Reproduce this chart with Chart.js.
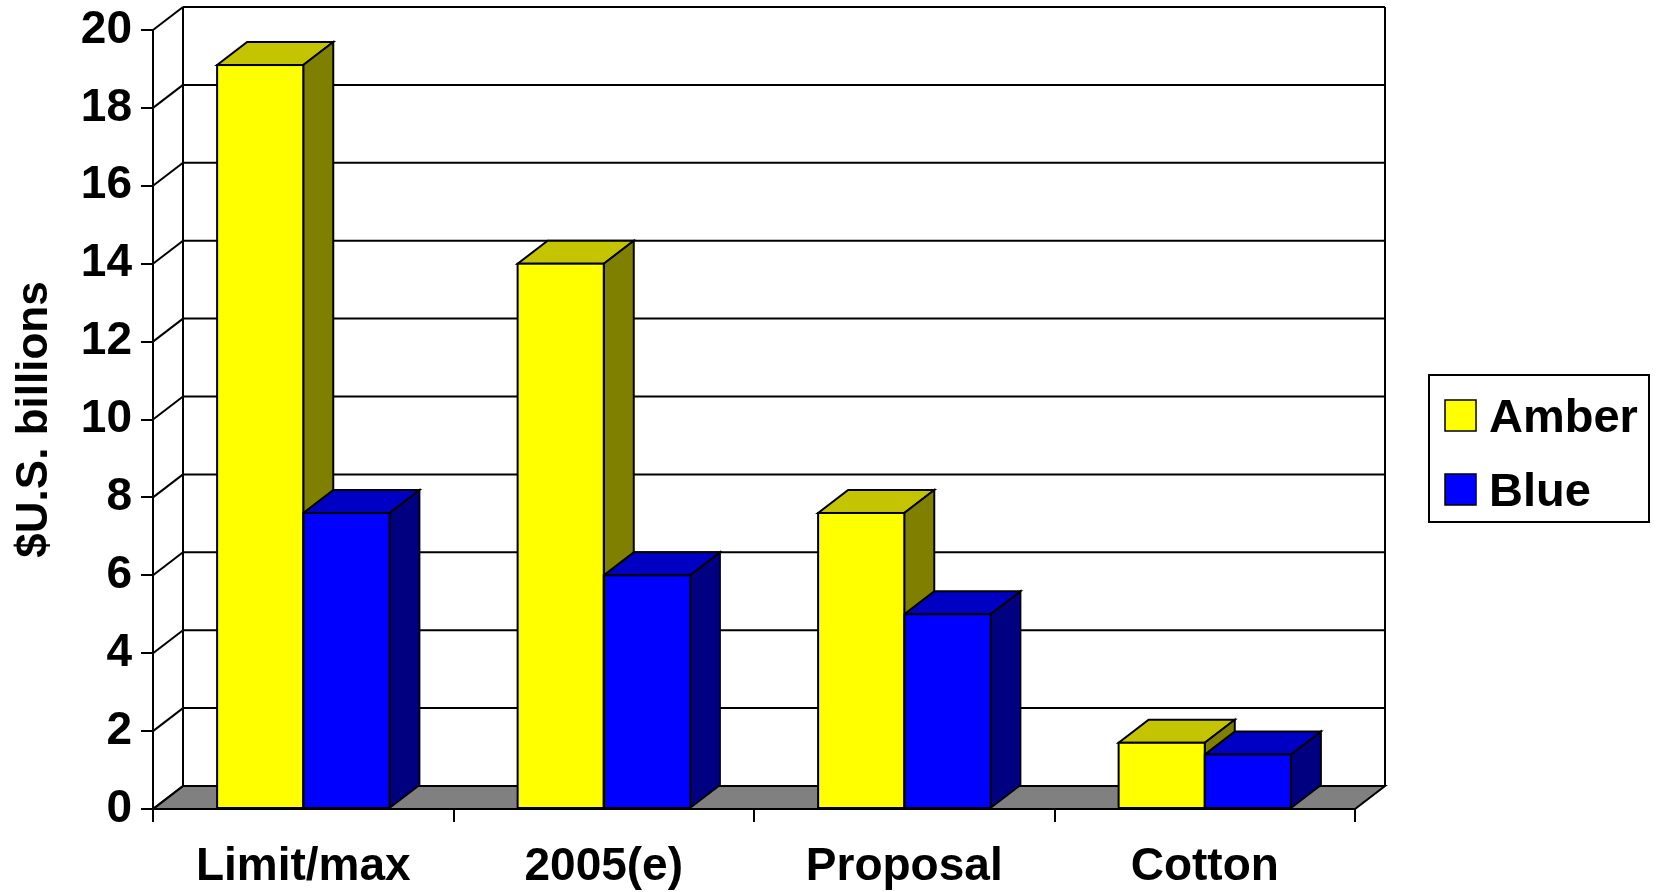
<!DOCTYPE html>
<html>
<head>
<meta charset="utf-8">
<script src="https://cdn.jsdelivr.net/npm/chart.js@4/dist/chart.umd.min.js"></script>
<style>
  html, body { margin: 0; padding: 0; background: #fff; }
  canvas { display: block; }
</style>
</head>
<body>
<canvas id="myChart" width="1656" height="892"></canvas>
<script>
// chart data
const categories = ["Limit/max", "2005(e)", "Proposal", "Cotton"];
const seriesNames = ["Amber", "Blue"];
const amberValues = [19.1, 14.0, 7.6, 1.7];
const blueValues = [7.6, 6.0, 5.0, 1.4];
const yMin = 0, yMax = 20, yStep = 2;

// colours for the three visible faces of each bar
const FACES = [
  { front: "#FFFF00", top: "#C4C400", side: "#808000" },
  { front: "#0000FF", top: "#0000C4", side: "#000080" }
];
const FLOOR = "#808080";
const DX = 30, DY = 23; // depth offset of the 3d box
const FONT = "'Liberation Sans', Arial, sans-serif";

Chart.defaults.font.family = FONT;
Chart.defaults.color = "#000";

function line(ctx, x1, y1, x2, y2) {
  ctx.beginPath();
  ctx.moveTo(x1, y1);
  ctx.lineTo(x2, y2);
  ctx.stroke();
}

function poly(ctx, pts, fill) {
  ctx.beginPath();
  ctx.moveTo(pts[0][0], pts[0][1]);
  for (let i = 1; i < pts.length; i++) ctx.lineTo(pts[i][0], pts[i][1]);
  ctx.closePath();
  ctx.fillStyle = fill;
  ctx.fill();
  ctx.stroke();
}

function barBox(el) {
  const p = el.getProps(["x", "y", "base", "width"], true);
  return { left: p.x - p.width / 2, right: p.x + p.width / 2, top: p.y, bottom: p.base };
}

const threeD = {
  id: "threeD",
  beforeDatasetsDraw(chart) {
    const { ctx, chartArea: a, scales: { y } } = chart;
    const y0 = y.getPixelForValue(0);
    ctx.save();
    ctx.lineWidth = 2;
    ctx.strokeStyle = "#000";
    ctx.lineJoin = "miter";

    // floor
    poly(ctx, [[a.left, y0], [a.right, y0], [a.right + DX, y0 - DY], [a.left + DX, y0 - DY]], FLOOR);

    // walls: gridlines on back wall, diagonals on the side wall
    y.ticks.forEach(t => {
      const py = y.getPixelForValue(t.value);
      line(ctx, a.left, py, a.left + DX, py - DY);
      line(ctx, a.left + DX, py - DY, a.right + DX, py - DY);
    });
    line(ctx, a.left + DX, y0 - DY, a.left + DX, a.top - DY);
    line(ctx, a.right + DX, y0 - DY, a.right + DX, a.top - DY);

    // top and side faces of the bars
    chart.data.labels.forEach((_, i) => {
      chart.data.datasets.forEach((ds, d) => {
        const b = barBox(chart.getDatasetMeta(d).data[i]);
        poly(ctx, [[b.left, b.top], [b.right, b.top], [b.right + DX, b.top - DY], [b.left + DX, b.top - DY]], FACES[d].top);
        poly(ctx, [[b.right, b.top], [b.right + DX, b.top - DY], [b.right + DX, b.bottom - DY], [b.right, b.bottom]], FACES[d].side);
      });
    });
    ctx.restore();
  },
  afterDatasetsDraw(chart) {
    const ctx = chart.ctx;
    ctx.save();
    ctx.lineWidth = 2;
    ctx.strokeStyle = "#000";
    chart.data.datasets.forEach((ds, d) => {
      chart.getDatasetMeta(d).data.forEach(el => {
        const b = barBox(el);
        ctx.strokeRect(b.left, b.top, b.right - b.left, b.bottom - b.top);
      });
    });
    ctx.restore();
  },
  afterDraw(chart) {
    // legend box on the right
    const ctx = chart.ctx;
    ctx.save();
    ctx.lineWidth = 2;
    ctx.strokeStyle = "#000";
    ctx.strokeRect(1429, 375, 220, 147);
    ctx.font = "bold 47px " + FONT;
    ctx.textBaseline = "middle";
    ctx.textAlign = "left";
    chart.data.datasets.forEach((ds, d) => {
      const cy = 415.5 + d * 74;
      ctx.fillStyle = ds.backgroundColor;
      ctx.fillRect(1445, cy - 15.5, 31, 31);
      ctx.lineWidth = 1.5;
      ctx.strokeRect(1445, cy - 15.5, 31, 31);
      ctx.fillStyle = "#000";
      ctx.fillText(ds.label, 1489, cy + 4);
    });
    ctx.restore();
  }
};

const ctx = document.getElementById("myChart");

new Chart(ctx, {
  type: "bar",
  data: {
    labels: categories,
    datasets: [
      { label: seriesNames[0], data: amberValues, backgroundColor: FACES[0].front },
      { label: seriesNames[1], data: blueValues, backgroundColor: FACES[1].front }
    ]
  },
  options: {
    responsive: false,
    animation: false,
    devicePixelRatio: 1,
    categoryPercentage: 0.5733,
    barPercentage: 1.0,
    borderWidth: 0,
    layout: { padding: { left: 0, top: 30, right: 301, bottom: 0 } },
    plugins: {
      legend: { display: false },
      tooltip: { enabled: false }
    },
    scales: {
      x: {
        grid: { offset: true, drawOnChartArea: false, drawTicks: true, tickLength: 13, color: "#000", lineWidth: 2 },
        border: { display: true, color: "#000", width: 2 },
        ticks: { font: { size: 46, weight: "bold" }, padding: 18, color: "#000" },
        afterFit: scale => { scale.height = 83; }
      },
      y: {
        min: yMin,
        max: yMax,
        grid: { drawOnChartArea: false, drawTicks: true, tickLength: 12, color: "#000", lineWidth: 2 },
        border: { display: true, color: "#000", width: 2 },
        ticks: { stepSize: yStep, font: { size: 46, weight: "bold" }, padding: 9, color: "#000" },
        title: {
          display: true,
          text: "$U.S. billions",
          font: { size: 44, weight: "bold" },
          padding: { top: 8, bottom: 0 },
          color: "#000"
        },
        afterFit: scale => { scale.width = 153; scale.paddingTop = 20; }
      }
    }
  },
  plugins: [threeD]
});
</script>
</body>
</html>
